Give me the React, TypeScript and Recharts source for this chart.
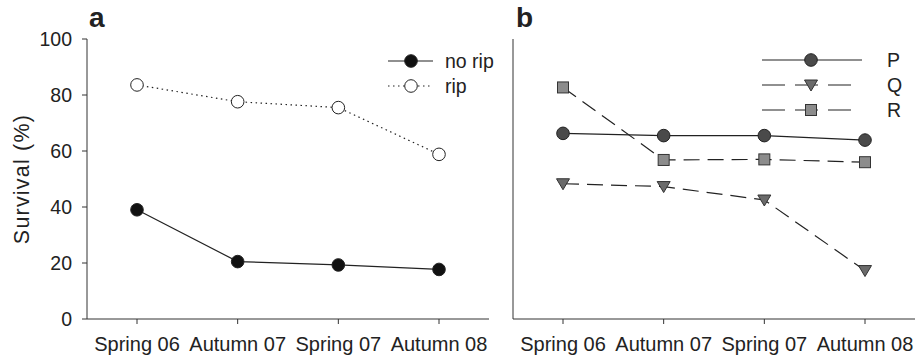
import React from 'react';
import { LineChart, Line, XAxis, YAxis, Legend } from 'recharts';

const categories = ['Spring 06', 'Autumn 07', 'Spring 07', 'Autumn 08'];
const yTicks = [0, 20, 40, 60, 80, 100];

// panel a
const noRip = [39.0, 20.5, 19.3, 17.7];
const rip = [83.6, 77.6, 75.5, 58.8];

// panel b
const seriesP = [66.3, 65.5, 65.5, 63.9];
const seriesQ = [48.3, 47.3, 42.5, 17.3];
const seriesR = [82.7, 56.8, 57.0, 56.0];

const dataA = categories.map((c, i) => ({ cat: c, noRip: noRip[i], rip: rip[i] }));
const dataB = categories.map((c, i) => ({ cat: c, P: seriesP[i], Q: seriesQ[i], R: seriesR[i] }));

const FONT = 'Arial, "Liberation Sans", sans-serif';
const INK = '#222';
const AXIS = '#333';

type Shape = 'circle' | 'triangle' | 'square';

const Marker = ({ cx, cy, shape, fill }: { cx: number; cy: number; shape: Shape; fill: string }) => {
  if (shape === 'triangle') {
    const pts = `${cx - 6.5},${cy - 5} ${cx + 6.5},${cy - 5} ${cx},${cy + 6}`;
    return <polygon points={pts} fill={fill} stroke={AXIS} strokeWidth={1} />;
  }
  if (shape === 'square') {
    return <rect x={cx - 5.5} y={cy - 5.5} width={11} height={11} fill={fill} stroke={AXIS} strokeWidth={1} />;
  }
  return <circle cx={cx} cy={cy} r={6.3} fill={fill} stroke={INK} strokeWidth={1} />;
};

const makeDot = (shape: Shape, fill: string) => (props: any) => {
  const { cx, cy, index } = props;
  if (cx == null || cy == null) return <g key={`d-${index}`} />;
  return (
    <g key={`d-${index}`}>
      <Marker cx={cx} cy={cy} shape={shape} fill={fill} />
    </g>
  );
};

interface SeriesStyle {
  key: string;
  name: string;
  shape: Shape;
  fill: string;
  dash?: string;
  legendDash?: string;
  legendLen: number;
}

const stylesA: SeriesStyle[] = [
  { key: 'noRip', name: 'no rip', shape: 'circle', fill: '#111', legendLen: 45 },
  { key: 'rip', name: 'rip', shape: 'circle', fill: '#fff', dash: '1.5 3.5', legendDash: '1.5 3.5', legendLen: 45 },
];

const stylesB: SeriesStyle[] = [
  { key: 'P', name: 'P', shape: 'circle', fill: '#4a4a4a', legendLen: 100 },
  { key: 'Q', name: 'Q', shape: 'triangle', fill: '#6b6b6b', dash: '16 8', legendDash: '23 10', legendLen: 91 },
  { key: 'R', name: 'R', shape: 'square', fill: '#8c8c8c', dash: '16 8', legendDash: '23 10', legendLen: 94 },
];

const makeLegend = (styles: SeriesStyle[], markerX: number, textX: number, width: number) => () => (
  <svg width={width} height={styles.length * 25 + 4}>
    {styles.map((s, i) => {
      const y = 12 + i * 25;
      return (
        <g key={s.key}>
          <line x1={0} x2={s.legendLen} y1={y} y2={y} stroke={INK} strokeWidth={1.2} strokeDasharray={s.legendDash} />
          <Marker cx={markerX} cy={y} shape={s.shape} fill={s.fill} />
          <text x={textX} y={y} dy="0.35em" fontSize={19.5} fill={INK} fontFamily={FONT}>
            {s.name}
          </text>
        </g>
      );
    })}
  </svg>
);

const YLabel = (props: any) => {
  const vb = props.viewBox || { x: 27, y: 39, width: 60, height: 280 };
  const x = vb.x - 5;
  const y = vb.y + vb.height / 2;
  return (
    <text
      x={x}
      y={y}
      transform={`rotate(-90, ${x}, ${y})`}
      textAnchor="middle"
      dominantBaseline="central"
      fontSize={21.5}
      letterSpacing={1.2}
      fill={INK}
      fontFamily={FONT}
    >
      Survival (%)
    </text>
  );
};

const xTickStyle = { fontSize: 20, fill: INK, fontFamily: FONT };
const yTickStyle = { fontSize: 19.5, fill: INK, fontFamily: FONT };

export default function App() {
  return (
    <div style={{ position: 'absolute', left: 0, top: 0, width: 916, height: 363, background: '#fff' }}>
      <div style={{ position: 'absolute', left: 0, top: 0 }}>
        <LineChart width={500} height={363} data={dataA} margin={{ top: 39, right: 11, bottom: 14, left: 27 }}>
          <XAxis
            dataKey="cat"
            padding={{ left: 50, right: 50 }}
            interval={0}
            tickSize={5}
            tickMargin={13}
            stroke={AXIS}
            tick={xTickStyle}
          />
          <YAxis
            width={60}
            domain={[0, 100]}
            ticks={yTicks}
            tickSize={5}
            tickMargin={10}
            stroke={AXIS}
            tick={yTickStyle}
            label={{ value: 'Survival (%)', content: YLabel }}
          />
          <Legend
            layout="horizontal"
            verticalAlign="middle"
            align="center"
            wrapperStyle={{ left: 388, top: 49, width: 110 }}
            content={makeLegend(stylesA, 23, 57, 110)}
          />
          {stylesA.map((s) => (
            <Line
              key={s.key}
              dataKey={s.key}
              name={s.name}
              type="linear"
              stroke={INK}
              strokeWidth={1.2}
              strokeDasharray={s.dash}
              dot={makeDot(s.shape, s.fill)}
              activeDot={false}
              isAnimationActive={false}
            />
          ))}
        </LineChart>
      </div>
      <div style={{ position: 'absolute', left: 460, top: 0 }}>
        <LineChart width={456} height={363} data={dataB} margin={{ top: 39, right: 1, bottom: 14, left: 43 }}>
          <XAxis
            dataKey="cat"
            padding={{ left: 50, right: 50 }}
            interval={0}
            tickSize={5}
            tickMargin={13}
            stroke={AXIS}
            tick={xTickStyle}
          />
          <YAxis
            width={10}
            domain={[0, 100]}
            ticks={yTicks}
            tickSize={5}
            stroke={AXIS}
            tick={false}
          />
          <Legend
            layout="horizontal"
            verticalAlign="middle"
            align="center"
            wrapperStyle={{ left: 302, top: 48, width: 150 }}
            content={makeLegend(stylesB, 49, 125, 150)}
          />
          {stylesB.map((s) => (
            <Line
              key={s.key}
              dataKey={s.key}
              name={s.name}
              type="linear"
              stroke={INK}
              strokeWidth={1.2}
              strokeDasharray={s.dash}
              dot={makeDot(s.shape, s.fill)}
              activeDot={false}
              isAnimationActive={false}
            />
          ))}
        </LineChart>
      </div>
      <svg width={916} height={363} style={{ position: 'absolute', left: 0, top: 0, pointerEvents: 'none' }}>
        <text x={89} y={27} fontSize={28} fontWeight="bold" fill={INK} fontFamily={FONT}>
          a
        </text>
        <text x={516} y={27} fontSize={28} fontWeight="bold" fill={INK} fontFamily={FONT}>
          b
        </text>
      </svg>
    </div>
  );
}
